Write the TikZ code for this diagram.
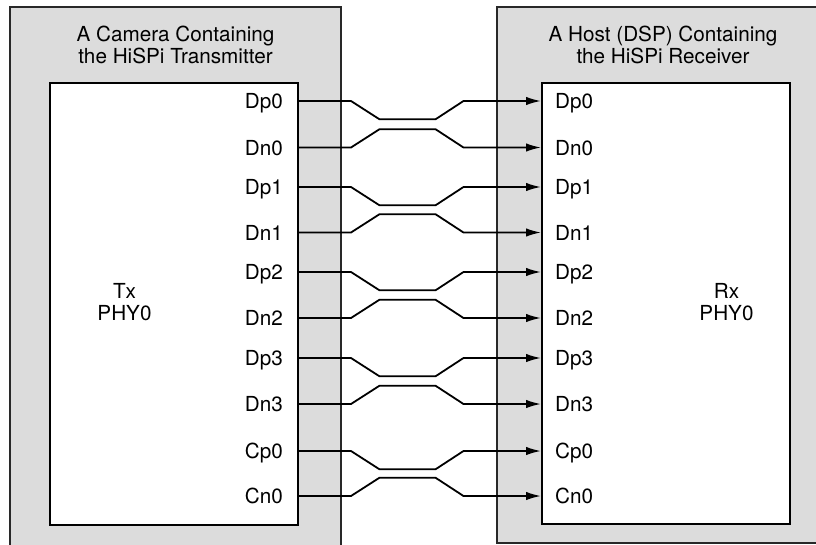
\documentclass[tikz,border=0pt]{standalone}
\usepackage{fontspec}
\setmainfont{TeX Gyre Heros}
\usetikzlibrary{arrows.meta}
\definecolor{boxgray}{RGB}{220,220,220}
\definecolor{edgegray}{RGB}{40,40,40}
\begin{document}
\begin{tikzpicture}[x=1pt,y=-1pt,
  txt/.style={inner sep=0pt,font=\fontsize{20.7}{22}\selectfont},
  outerbox/.style={fill=boxgray,draw=edgegray,line width=1.5pt},
  innerbox/.style={fill=white,draw=black,line width=2.4pt},
  sig/.style={line width=1.8pt,-{Latex[length=15pt,width=8.5pt]}}]
\clip (0,0) rectangle (816,544);
% outer boxes
\path[outerbox] (10,7) rectangle (341,548);
\path[outerbox] (497,7) rectangle (830,543);
% inner boxes
\node[innerbox,minimum width=248pt,minimum height=442pt,anchor=north west,inner sep=0pt] (tx) at (49,82) {};
\node[innerbox,minimum width=248pt,minimum height=441pt,anchor=north west,inner sep=0pt] (rx) at (541,82) {};
% titles
\node[txt,anchor=base] (tt1) at (175.5,41.5) {A Camera Containing};
\node[txt,anchor=base] (tt2) at (175.5,63.5) {the HiSPi Transmitter};
\node[txt,anchor=base] (rt1) at (663,41.5) {A Host (DSP) Containing};
\node[txt,anchor=base] (rt2) at (663,63.5) {the HiSPi Receiver};
% block names
\node[txt,anchor=base] (txa) at (124.5,298) {Tx};
\node[txt,anchor=base] (txb) at (124.5,320) {PHY0};
\node[txt,anchor=base] (rxa) at (726.5,298) {Rx};
\node[txt,anchor=base] (rxb) at (726.5,320) {PHY0};
% signals
\foreach \p/\n/\yp/\yn in {Dp0/Dn0/101/147.5, Dp1/Dn1/187/232.5, Dp2/Dn2/272/318, Dp3/Dn3/358/404, Cp0/Cn0/451/496}{
  \node[txt,anchor=base east] (l\p) at (283,\yp+7.5) {\p};
  \node[txt,anchor=base east] (l\n) at (283,\yn+7.5) {\n};
  \node[txt,anchor=base west] (r\p) at (555,\yp+7.5) {\p};
  \node[txt,anchor=base west] (r\n) at (555,\yn+7.5) {\n};
  \coordinate (s\p) at (297,\yp);
  \coordinate (s\n) at (297,\yn);
  \coordinate (e\p) at (541,\yp);
  \coordinate (e\n) at (541,\yn);
  \draw[sig] (s\p) -- (351,\yp) -- (379.5,\yp+18.3) -- (435.5,\yp+18.3) -- (463.5,\yp) -- (e\p);
  \draw[sig] (s\n) -- (351,\yn) -- (379.5,\yn-18.3) -- (435.5,\yn-18.3) -- (463.5,\yn) -- (e\n);
}
\end{tikzpicture}
\end{document}
